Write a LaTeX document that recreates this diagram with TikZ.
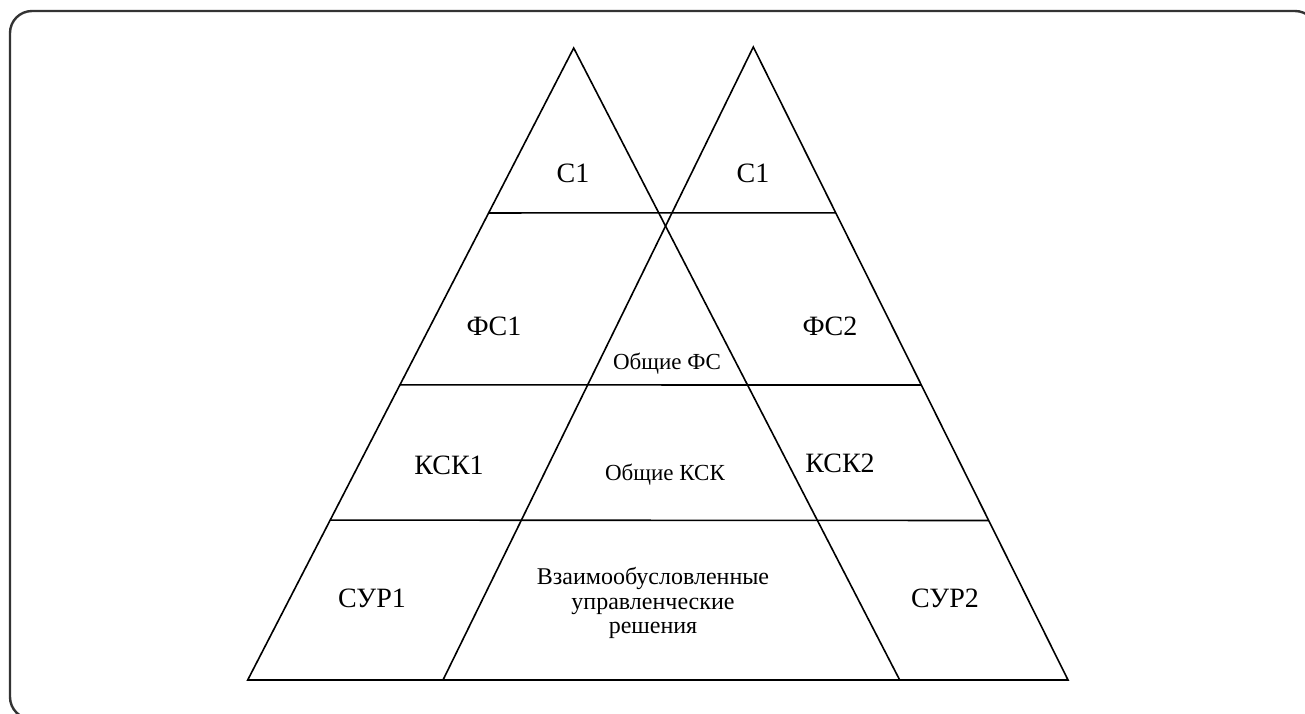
\documentclass[tikz,border=0pt]{standalone}
\usepackage{fontspec}
\setmainfont{Liberation Serif}
\usepackage{tikz}
\usetikzlibrary{calc}
\tikzset{
  frame/.style={draw=black!80, line width=2.4pt, rounded corners=22pt},
  edge/.style={draw, line width=1.6pt, line join=miter},
  level/.style={draw, line width=1.6pt},
  lbl/.style={font=\fontsize{28}{32}\selectfont, inner sep=0pt},
  small/.style={font=\fontsize{23}{26}\selectfont, inner sep=0pt},
  multi/.style={font=\fontsize{24}{24.5}\selectfont, align=center, inner sep=0pt},
}

\begin{document}
\begin{tikzpicture}[x=1pt, y=-1pt]
  \useasboundingbox (0,0) rectangle (1305,713);
  \path[frame] (10,11) rectangle (1317,719);

  % the two pyramids
  \coordinate (apexL) at (573.7,48);
  \coordinate (baseLl) at (247.7,680);
  \coordinate (baseLr) at (899.7,680);
  \coordinate (apexR) at (753.3,47);
  \coordinate (baseRl) at (443,680);
  \coordinate (baseRr) at (1068,680);

  \draw[edge] (baseLl) -- (apexL) -- (baseLr) -- cycle;
  \draw[edge] (baseRl) -- (apexR) -- (baseRr) -- cycle;

  % level lines
  \coordinate (l1a) at ($(apexL)!0.261!(baseLl)$);
  \coordinate (l1b) at ($(apexR)!0.262!(baseRr)$);
  \coordinate (l2a) at ($(apexL)!0.533!(baseLl)$);
  \coordinate (l2b) at ($(apexR)!0.534!(baseRr)$);
  \coordinate (l3a) at ($(apexL)!0.747!(baseLl)$);
  \coordinate (l3b) at ($(apexR)!0.748!(baseRr)$);
  \draw[level] (l1a) -- (l1b);
  \draw[level] (l2a) -- (l2b);
  \draw[level] (l3a) -- (l3b);

  % labels
  \node[lbl] (c1a) at (573,173) {С1};
  \node[lbl] (c1b) at (753,173) {С1};
  \node[lbl] (fs1) at (494,326) {ФС1};
  \node[lbl] (fs2) at (830,326) {ФС2};
  \node[small] (fsc) at (667,364) {Общие ФС};
  \node[lbl] (ksk1) at (449,465) {КСК1};
  \node[small] (kskc) at (665,475) {Общие КСК};
  \node[lbl] (ksk2) at (840,463) {КСК2};
  \node[lbl] (sur1) at (372,598) {СУР1};
  \node[lbl] (sur2) at (945,598) {СУР2};
  \node[multi] (dec) at (653,603) {Взаимообусловленные\\управленческие\\решения};
\end{tikzpicture}
\end{document}
